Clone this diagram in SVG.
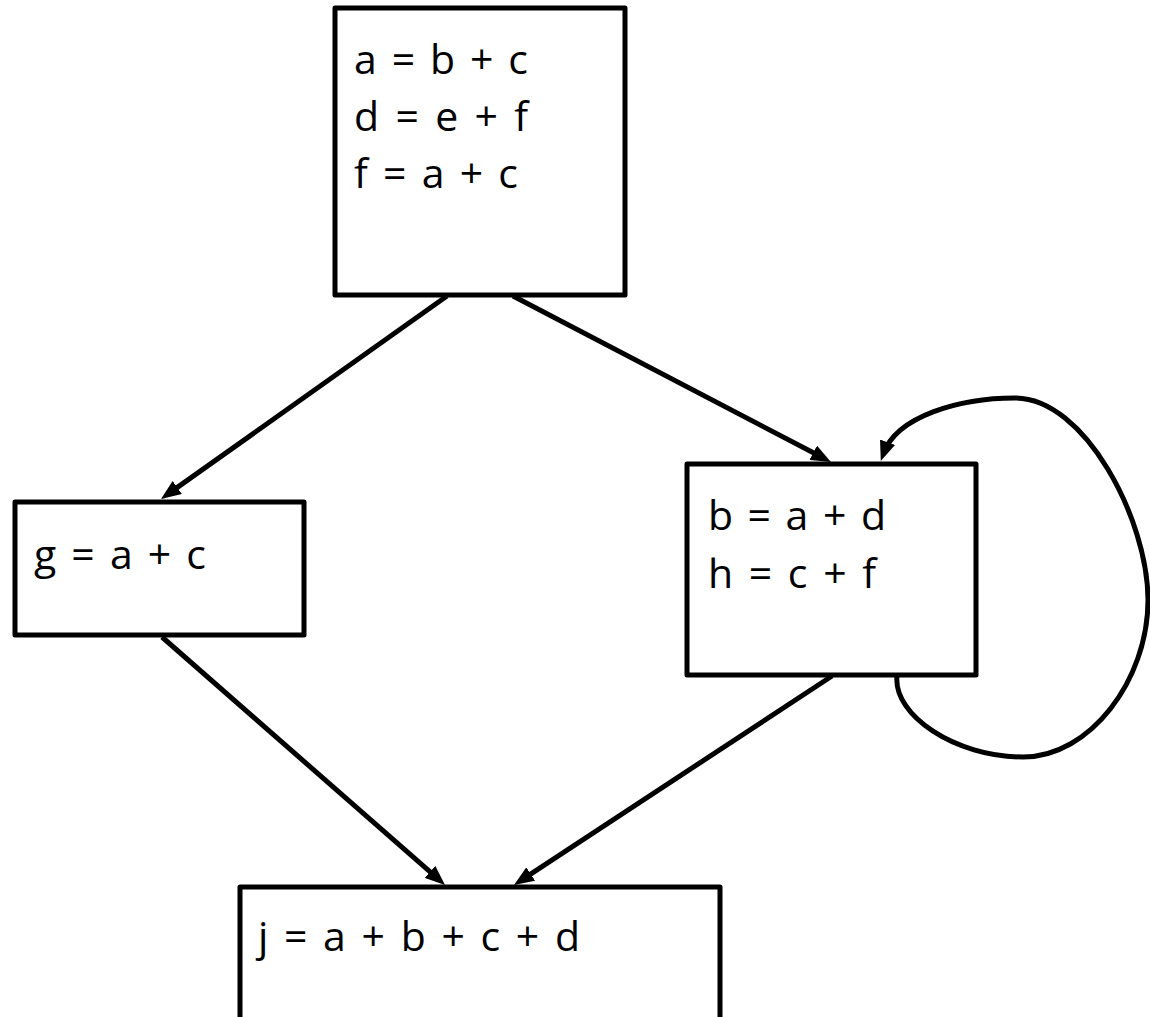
<svg xmlns="http://www.w3.org/2000/svg" width="1150" height="1017" viewBox="0 0 1150 1017">
  <style>
    .box { fill: #ffffff; stroke: #000000; stroke-width: 5; stroke-linejoin: round; }
    .lbl { font-family: "Open Sans", "Noto Sans", "Liberation Sans", sans-serif; font-size: 41px; fill: #000000; }
    .edge { fill: none; stroke: #000000; stroke-width: 5; }
  </style>
  <defs>
    <marker id="arrow" markerUnits="userSpaceOnUse" viewBox="0 0 20 16" refX="12" refY="8" markerWidth="20" markerHeight="16" orient="auto">
      <path d="M0,0 L20,8 L0,16 z" fill="#000000"/>
    </marker>
  </defs>

  <rect width="1150" height="1017" fill="#ffffff"/>

  <!-- basic blocks -->
  <g id="block-entry">
    <rect class="box" x="335" y="8" width="290" height="287"/>
    <text class="lbl" x="354" y="74" textLength="174" lengthAdjust="spacing">a = b + c</text>
    <text class="lbl" x="354" y="131" textLength="174" lengthAdjust="spacing">d = e + f</text>
    <text class="lbl" x="354" y="188" textLength="164" lengthAdjust="spacing">f = a + c</text>
  </g>

  <g id="block-left">
    <rect class="box" x="15" y="502" width="289" height="133"/>
    <text class="lbl" x="34" y="569" textLength="172" lengthAdjust="spacing">g = a + c</text>
  </g>

  <g id="block-right">
    <rect class="box" x="687" y="464" width="289" height="211"/>
    <text class="lbl" x="708" y="530" textLength="178" lengthAdjust="spacing">b = a + d</text>
    <text class="lbl" x="708" y="588" textLength="168" lengthAdjust="spacing">h = c + f</text>
  </g>

  <g id="block-exit">
    <rect class="box" x="240" y="887" width="480" height="200"/>
    <text class="lbl" x="258" y="951" textLength="322" lengthAdjust="spacing">j = a + b + c + d</text>
  </g>

  <!-- control-flow edges -->
  <g id="edges">
    <line class="edge" x1="447" y1="296" x2="167.5" y2="494.4" marker-end="url(#arrow)"/>
    <line class="edge" x1="513" y1="296" x2="823.9" y2="458.3" marker-end="url(#arrow)"/>
    <line class="edge" x1="162" y1="637" x2="439" y2="879.7" marker-end="url(#arrow)"/>
    <line class="edge" x1="832" y1="676" x2="520.7" y2="880.6" marker-end="url(#arrow)"/>
    <path class="edge" d="M 897 676 C 893 715, 955 757, 1023 757 C 1090 757, 1148 680, 1148 600 C 1148 520, 1085 398, 1015 398 C 960 398, 897 416, 883.5 453.5" marker-end="url(#arrow)"/>
  </g>
</svg>
